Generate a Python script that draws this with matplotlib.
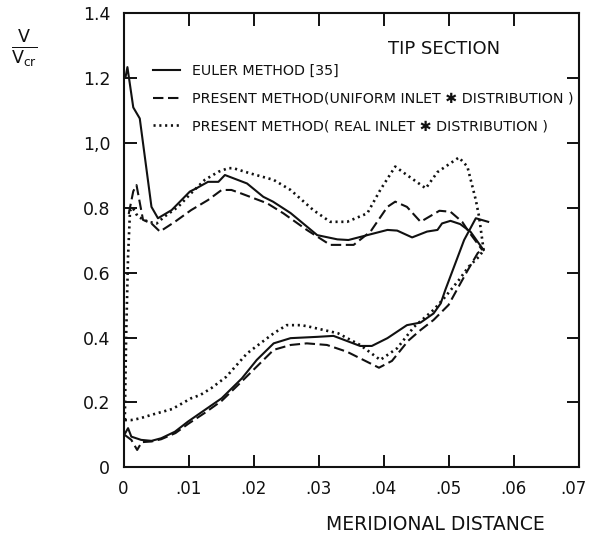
import matplotlib
matplotlib.use("Agg")
import matplotlib.pyplot as plt
from matplotlib.transforms import ScaledTranslation

# Euler method [35]
euler_upper_x = [0.0003, 0.0006, 0.0015, 0.0025, 0.0043, 0.0053, 0.0074, 0.0102, 0.0112, 0.0130,
                 0.0146, 0.0156, 0.0190, 0.0215, 0.0230, 0.0257, 0.0298, 0.0329, 0.0346, 0.0375,
                 0.0406, 0.0421, 0.0444, 0.0467, 0.0483, 0.0490, 0.0503, 0.0518, 0.0534, 0.0554]
euler_upper_y = [1.20, 1.232, 1.108, 1.074, 0.802, 0.767, 0.792, 0.849, 0.859, 0.879,
                 0.879, 0.900, 0.874, 0.833, 0.818, 0.783, 0.715, 0.702, 0.700, 0.715,
                 0.731, 0.729, 0.708, 0.726, 0.731, 0.751, 0.759, 0.749, 0.725, 0.669]
euler_lower_x = [0.0001, 0.0007, 0.0012, 0.0027, 0.0043, 0.0058, 0.0079, 0.0099, 0.0125, 0.0151,
                 0.0182, 0.0205, 0.0231, 0.0257, 0.0298, 0.0323, 0.0364, 0.0382, 0.0406, 0.0436,
                 0.0457, 0.0477, 0.0488, 0.0495, 0.0524, 0.0542, 0.0561]
euler_lower_y = [0.10, 0.121, 0.095, 0.085, 0.082, 0.090, 0.110, 0.141, 0.177, 0.213,
                 0.274, 0.331, 0.382, 0.398, 0.402, 0.405, 0.374, 0.374, 0.398, 0.438,
                 0.446, 0.474, 0.505, 0.546, 0.700, 0.767, 0.756]

# present method, uniform inlet distribution
uniform_upper_x = [0.0008, 0.0015, 0.0020, 0.0030, 0.0043, 0.0056, 0.0079, 0.0104, 0.0130, 0.0151,
                   0.0166, 0.0180, 0.0221, 0.0246, 0.0282, 0.0318, 0.0354, 0.0380, 0.0406, 0.0418,
                   0.0436, 0.0457, 0.0486, 0.0503, 0.0521, 0.0531, 0.0552]
uniform_upper_y = [0.78, 0.85, 0.869, 0.762, 0.751, 0.726, 0.756, 0.792, 0.823, 0.854,
                   0.854, 0.844, 0.813, 0.782, 0.731, 0.685, 0.685, 0.726, 0.802, 0.818,
                   0.802, 0.756, 0.790, 0.787, 0.756, 0.726, 0.669]
uniform_lower_x = [0.0002, 0.0012, 0.0021, 0.0028, 0.0043, 0.0058, 0.0080, 0.0100, 0.0125, 0.0151,
                   0.0182, 0.0231, 0.0257, 0.0282, 0.0313, 0.0344, 0.0393, 0.0413, 0.0438, 0.0457,
                   0.0477, 0.0500, 0.0511, 0.0529, 0.0545, 0.0553]
uniform_lower_y = [0.10, 0.085, 0.054, 0.078, 0.080, 0.087, 0.106, 0.135, 0.168, 0.205,
                   0.265, 0.362, 0.377, 0.382, 0.377, 0.356, 0.307, 0.328, 0.390, 0.423,
                   0.454, 0.500, 0.540, 0.605, 0.660, 0.672]

# present method, real inlet distribution
real_upper_x = [0.0002, 0.0004, 0.0007, 0.0010, 0.0014, 0.0022, 0.0038, 0.0051, 0.0063, 0.0084,
                0.0104, 0.0125, 0.0146, 0.0161, 0.0169, 0.0195, 0.0231, 0.0257, 0.0292, 0.0318,
                0.0344, 0.0375, 0.0395, 0.0418, 0.0436, 0.0465, 0.0483, 0.0516, 0.0529, 0.0542,
                0.0547, 0.0554]
real_upper_y = [0.146, 0.40, 0.65, 0.79, 0.800, 0.772, 0.756, 0.751, 0.772, 0.802,
                0.844, 0.885, 0.910, 0.921, 0.921, 0.905, 0.885, 0.854, 0.792, 0.756,
                0.756, 0.782, 0.854, 0.926, 0.900, 0.859, 0.909, 0.954, 0.926, 0.823,
                0.772, 0.669]
real_lower_x = [0.0002, 0.0012, 0.0025, 0.0043, 0.0075, 0.0104, 0.0118, 0.0135, 0.0158, 0.0190,
                0.0231, 0.0251, 0.0272, 0.0282, 0.0330, 0.0364, 0.0395, 0.0421, 0.0447, 0.0477,
                0.0494, 0.0516, 0.0531, 0.0547, 0.0554]
real_lower_y = [0.146, 0.146, 0.151, 0.162, 0.180, 0.213, 0.223, 0.244, 0.279, 0.351,
                0.413, 0.438, 0.438, 0.435, 0.413, 0.377, 0.331, 0.367, 0.433, 0.485,
                0.523, 0.577, 0.618, 0.649, 0.669]

x_ticks = [0, 0.01, 0.02, 0.03, 0.04, 0.05, 0.06, 0.07]
x_tick_labels = ['0', '.01', '.02', '.03', '.04', '.05', '.06', '.07']
y_ticks = [0, 0.2, 0.4, 0.6, 0.8, 1.0, 1.2, 1.4]
y_tick_labels = ['0', '0.2', '0.4', '0.6', '0.8', '1,0', '1.2', '1.4']

labels = ['EULER METHOD [35]',
          'PRESENT METHOD(UNIFORM INLET \u2731 DISTRIBUTION )',
          'PRESENT METHOD( REAL INLET \u2731 DISTRIBUTION )']

plt.rcParams['font.family'] = ['DejaVu Sans']
ink = '#111111'

fig = plt.figure(figsize=(5.89, 5.33), dpi=100)
ax = fig.add_axes([0.2097, 0.1229, 0.7725, 0.8536])

solid = dict(color=ink, lw=1.5)
dashed = dict(color=ink, lw=1.5, linestyle=(0, (5, 2.2)))
dotted = dict(color=ink, lw=1.9, linestyle=(0, (0.8, 1.4)))

l1, = ax.plot(euler_upper_x, euler_upper_y, **solid)
ax.plot(euler_lower_x, euler_lower_y, **solid)
l2, = ax.plot(uniform_upper_x, uniform_upper_y, **dashed)
ax.plot(uniform_lower_x, uniform_lower_y, **dashed)
l3, = ax.plot(real_upper_x, real_upper_y, **dotted)
ax.plot(real_lower_x, real_lower_y, **dotted)

ax.set_xlim(0, 0.07)
ax.set_ylim(0, 1.4)
ax.set_xticks(x_ticks)
ax.set_xticklabels(x_tick_labels)
ax.set_yticks(y_ticks)
ax.set_yticklabels(y_tick_labels)
ax.tick_params(direction='in', length=9, width=1.4, top=True, right=True,
               labelsize=12.5, colors=ink)
ax.tick_params(axis='x', pad=9, labelsize=12)
ax.tick_params(axis='y', pad=9.5)
for s in ax.spines.values():
    s.set_linewidth(1.5)
    s.set_color(ink)

# last x label sits a little left of its tick, as in the original
last = ax.xaxis.get_major_ticks()[-1].label1
last.set_transform(last.get_transform() + ScaledTranslation(-5 / 100, 0, fig.dpi_scale_trans))

ax.set_xlabel('MERIDIONAL DISTANCE', fontsize=13.5, color=ink)
ax.xaxis.set_label_coords(0.685, -0.104)

ax.set_ylabel(r'$\frac{\mathsf{V}}{\mathsf{V}_{\mathsf{cr}}}$', rotation=0,
              fontsize=18, color=ink, ha='center', va='center')
ax.yaxis.set_label_coords(-0.218, 0.92)

ax.text(0.705, 0.919, 'TIP SECTION', transform=ax.transAxes, fontsize=13,
        color=ink, ha='center', va='center')

leg = ax.legend([l1, l2, l3], labels, loc='upper left', bbox_to_anchor=(0.065, 0.887),
                frameon=False, fontsize=10.3, handlelength=1.9, handletextpad=0.8,
                labelspacing=0.95, borderpad=0, borderaxespad=0)
for t in leg.get_texts():
    t.set_color(ink)

fig.savefig('out.png', dpi=100, facecolor='white')
